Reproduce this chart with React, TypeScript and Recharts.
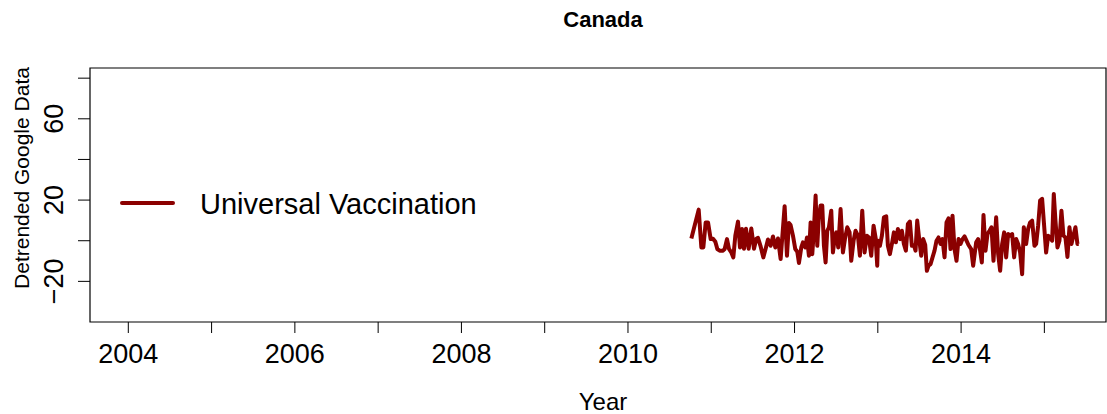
import { LineChart, Line, XAxis, YAxis, ReferenceArea } from "recharts";

// Decimal-year time stamps of the detrended search series
const sampleYears = [
  2010.761, 2010.849, 2010.881, 2010.905, 2010.933, 2010.961, 2010.993, 2011.021, 2011.049, 2011.073,
  2011.101, 2011.141, 2011.161, 2011.189, 2011.213, 2011.241, 2011.265, 2011.289, 2011.321, 2011.345,
  2011.369, 2011.393, 2011.417, 2011.449, 2011.481, 2011.513, 2011.541, 2011.561, 2011.593, 2011.625,
  2011.657, 2011.681, 2011.713, 2011.741, 2011.769, 2011.801, 2011.833,
  2011.881, 2011.909, 2011.933, 2011.953, 2011.981, 2012.009, 2012.033, 2012.053, 2012.081, 2012.101,
  2012.129, 2012.149, 2012.173, 2012.193, 2012.213, 2012.233, 2012.253, 2012.273, 2012.293, 2012.313,
  2012.333, 2012.353, 2012.373, 2012.393, 2012.413, 2012.441, 2012.461, 2012.481, 2012.501, 2012.525,
  2012.553, 2012.581, 2012.605, 2012.633, 2012.661, 2012.681, 2012.709, 2012.733, 2012.761, 2012.785,
  2012.813, 2012.841, 2012.869, 2012.893, 2012.921, 2012.949, 2012.973, 2012.993,
  2013.001, 2013.025, 2013.049, 2013.073, 2013.101, 2013.121, 2013.145, 2013.169, 2013.193, 2013.217,
  2013.241, 2013.269, 2013.289, 2013.313, 2013.337, 2013.361, 2013.385, 2013.409, 2013.433, 2013.453,
  2013.473, 2013.497, 2013.521, 2013.545, 2013.569, 2013.589, 2013.609, 2013.633, 2013.657, 2013.681,
  2013.705, 2013.729, 2013.753, 2013.777, 2013.801, 2013.825, 2013.849, 2013.873, 2013.897, 2013.921,
  2013.945, 2013.969, 2013.993, 2014.017, 2014.041, 2014.065, 2014.089, 2014.121, 2014.145,
  2014.181, 2014.205, 2014.229, 2014.249, 2014.269, 2014.293, 2014.317, 2014.341, 2014.365, 2014.389,
  2014.421, 2014.445, 2014.469, 2014.493, 2014.517, 2014.541, 2014.565, 2014.589, 2014.613, 2014.637,
  2014.661, 2014.685, 2014.709, 2014.733, 2014.753, 2014.781, 2014.805, 2014.829, 2014.853, 2014.881,
  2014.901, 2014.925, 2014.949, 2014.973, 2014.997, 2015.021, 2015.045, 2015.069, 2015.093, 2015.113,
  2015.133, 2015.157, 2015.181, 2015.205, 2015.229, 2015.253, 2015.277, 2015.301, 2015.325, 2015.349,
  2015.373, 2015.397, 2015.413,
];

const universalVaccination = [
  1.1, 15.3, -3.3, -3.3, 9, 9, 0.8, 1, -0.5, -4.1,
  -4.9, -4.9, -4.1, 0.8, -4, -5.8, -8.2, 2.5, 9.4, -3.3,
  5.8, -4, 5.9, -4, 6, -4, 1, 1.4, -2.8, -8.2,
  -3.3, 0.6, -2.5, 2.1, -3.3, 1.1, -9,
  17, -7.4, 8.7, 7.7, 2.5, -4.1, -5.4, -11, -3.3, -0.8,
  -3.3, 1.6, -7.4, 9, -6.6, 5.8, 22.2, -2.5, 12.3, 17.3,
  17.3, -2.5, -10.7, 4.9, 6.6, 14.8, -5.8, 0.8, 4.1, -3.3,
  15.6, -5.8, 0.8, 6.6, 4.1, -9.9, 0, 4.9, 2.5, -7.4,
  14.8, -5.8, 2.5, 1.6, -7.4, 7.4, 1.6, -12.3,
  0, -2.5, 2.5, 11.5, 12, -2.5, -6.6, -1.6, 4.1, -0.8,
  5.8, 0.8, 4.9, -1.6, -4.9, 8.2, 9.4, -2.5, -2.1, -4.9,
  9.9, 0.8, -7.4, 0.8, -2.1, -14.8, -12.3, -11.5, -8.2, -4.9,
  0, 1.6, -1.6, 0.8, -8.2, 9, 11, -4.1, 12.3, -4.1,
  -9.9, 0.8, -1.6, 0.8, 2.1, 0, -2.1, -4.1, -12.3,
  -0.8, 0.8, -4.9, -10.7, 12.7, -4.9, 3.3, 4.9, 6.6, -9.9,
  11.5, -6.6, -14.8, -1.6, 4.1, -8.2, 3.3, 2.5, 3.3, -8.2,
  0.8, -1.6, -5.8, -16.5, 6.6, -1.6, 5.8, 9, 9.9, -2.5,
  -1.6, 7.4, 19.8, 20.6, 7.4, -5.8, 2.5, 1.6, 0, 23,
  9.9, -3.3, 0, 14.8, 2.5, 1.6, -8, 6.6, -1.6, 2.5,
  6.6, -1.6, -1.6,
];

const yearTicks = [2004, 2005, 2006, 2007, 2008, 2009, 2010, 2011, 2012, 2013, 2014, 2015];
const valueTicks = [-20, 0, 20, 40, 60, 80];
const labeledValues = [-20, 20, 60];

const X_DOMAIN: [number, number] = [2003.54, 2015.74];
const Y_DOMAIN: [number, number] = [-40, 85];
const FONT = "'Liberation Sans', Arial, Helvetica, sans-serif";
const SERIES_COLOR = "#8B0000";

const data = sampleYears.map((t, i) => ({ t, v: universalVaccination[i] }));

const YearTick = ({ x = 0, y = 0, payload }: any) =>
  payload.value % 2 === 0 ? (
    <text x={x} y={y + 28} textAnchor="middle" fontSize={27} fontFamily={FONT} fill="#000">
      {payload.value}
    </text>
  ) : null;

const ValueTick = ({ x = 0, y = 0, payload }: any) => {
  if (!labeledValues.includes(payload.value)) return null;
  const bx = x - 13;
  return (
    <text
      x={bx} y={y} textAnchor="middle" fontSize={27} fontFamily={FONT} fill="#000"
      transform={`rotate(-90 ${bx} ${y})`}
    >
      {payload.value < 0 ? `\u2212${Math.abs(payload.value)}` : payload.value}
    </text>
  );
};

// legend sits inside the plot box, drawn as an overlay so it takes no layout space
const LegendBox = () => (
  <div style={{ position: "absolute", left: 120, top: 190, display: "flex", alignItems: "center", fontSize: 29, lineHeight: "29px", color: "#000", whiteSpace: "nowrap" }}>
    <span style={{ display: "inline-block", width: 55, height: 4, background: SERIES_COLOR, borderRadius: 2, marginRight: 25, position: "relative", top: -2 }} />
    <span>Universal Vaccination</span>
  </div>
);

export default function App() {
  return (
    <div style={{ position: "absolute", left: 0, top: 0, width: 1107, height: 414, background: "#fff", fontFamily: FONT }}>
      <LineChart width={1107} height={414} data={data} margin={{ top: 68, right: 1, bottom: 0, left: 0 }}>
        <XAxis
          dataKey="t" type="number" domain={X_DOMAIN} allowDataOverflow ticks={yearTicks} interval={0}
          height={92} tickSize={11} axisLine={false} tickLine={{ stroke: "#000", strokeWidth: 1 }} tick={<YearTick />}
        />
        <YAxis
          type="number" domain={Y_DOMAIN} allowDataOverflow ticks={valueTicks} interval={0}
          width={90} tickSize={12} axisLine={false} tickLine={{ stroke: "#000", strokeWidth: 1 }} tick={<ValueTick />}
        />
        <ReferenceArea
          x1={X_DOMAIN[0]} x2={X_DOMAIN[1]} y1={Y_DOMAIN[0]} y2={Y_DOMAIN[1]}
          fill="none" fillOpacity={0} stroke="#000" strokeWidth={1.2} ifOverflow="visible"
        />
        <Line
          type="linear" dataKey="v" name="Universal Vaccination" stroke={SERIES_COLOR} strokeWidth={4}
          strokeLinejoin="round" dot={false} activeDot={false} isAnimationActive={false}
        />
      </LineChart>
      <div style={{ position: "absolute", left: 603, top: 9, transform: "translateX(-50%)", fontSize: 22, lineHeight: "22px", fontWeight: "bold", whiteSpace: "nowrap" }}>
        Canada
      </div>
      <div style={{ position: "absolute", left: 603, top: 390, transform: "translateX(-50%)", fontSize: 24, lineHeight: "24px", whiteSpace: "nowrap" }}>
        Year
      </div>
      <div style={{ position: "absolute", left: 21, top: 178, transform: "translate(-50%, -50%) rotate(-90deg)", fontSize: 21, lineHeight: "21px", whiteSpace: "nowrap" }}>
        Detrended Google Data
      </div>
      <LegendBox />
    </div>
  );
}
